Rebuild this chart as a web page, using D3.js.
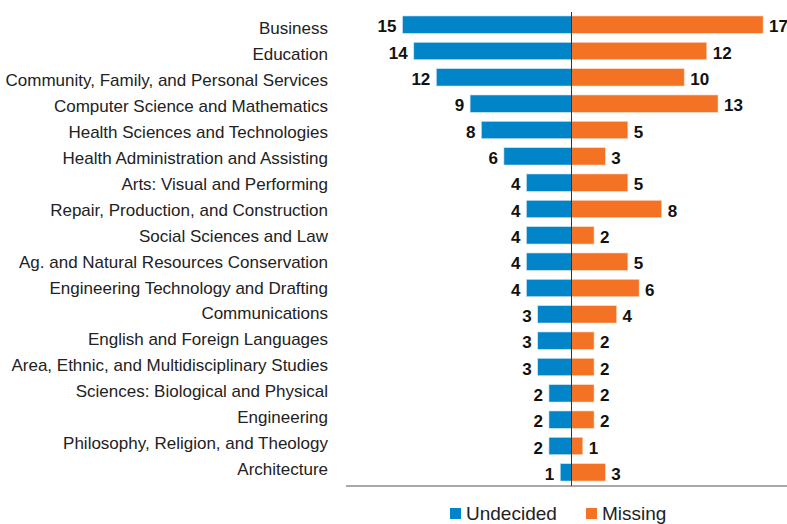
<!DOCTYPE html>
<html>
<head>
<meta charset="utf-8">
<script src="https://cdn.jsdelivr.net/npm/d3@7"></script>
<style>
  body { margin: 0; background: #fff; }
  text { font-family: "Liberation Sans", Arial, sans-serif; }
</style>
</head>
<body>
<div id="chart"></div>
<script>
// Data
const categories = [
  "Business", "Education", "Community, Family, and Personal Services",
  "Computer Science and Mathematics", "Health Sciences and Technologies",
  "Health Administration and Assisting", "Arts: Visual and Performing",
  "Repair, Production, and Construction", "Social Sciences and Law",
  "Ag. and Natural Resources Conservation", "Engineering Technology and Drafting",
  "Communications", "English and Foreign Languages",
  "Area, Ethnic, and Multidisciplinary Studies", "Sciences: Biological and Physical",
  "Engineering", "Philosophy, Religion, and Theology", "Architecture"
];
const undecided = [15, 14, 12, 9, 8, 6, 4, 4, 4, 4, 4, 3, 3, 3, 2, 2, 2, 1];
const missing = [17, 12, 10, 13, 5, 3, 5, 8, 2, 5, 6, 4, 2, 2, 2, 2, 1, 3];
const seriesNames = ["Undecided", "Missing"];

const width = 787, height = 524;
const blue = "#0284c8", orange = "#f37224";
const centerX = 571.5;

const svg = d3.select("#chart").append("svg")
  .attr("width", width)
  .attr("height", height);

// Scales
const xLeft = d3.scaleLinear().domain([0, 15]).range([centerX, centerX - 169]);
const xRight = d3.scaleLinear().domain([0, 17]).range([centerX, centerX + 191.6]);

const y = d3.scaleBand()
  .domain(categories)
  .range([11.5, 485.5])
  .paddingInner(0.34)
  .paddingOuter(0.17);

// category labels sit on a slightly tighter grid than the bars
const yLabel = d3.scalePoint()
  .domain(categories)
  .range([27.5, 469.3]);

const rows = categories.map((c, i) => ({ cat: c, u: undecided[i], m: missing[i] }));

// Category labels
svg.append("g").selectAll("text")
  .data(rows)
  .enter().append("text")
  .attr("x", 328)
  .attr("y", d => yLabel(d.cat))
  .attr("dy", "0.36em")
  .attr("text-anchor", "end")
  .attr("font-size", "17px")
  .attr("fill", "#222")
  .text(d => d.cat);

// Undecided bars
svg.append("g").selectAll("rect")
  .data(rows)
  .enter().append("rect")
  .attr("x", d => xLeft(d.u))
  .attr("y", d => y(d.cat))
  .attr("width", d => centerX - xLeft(d.u))
  .attr("height", y.bandwidth())
  .attr("fill", blue)
  .attr("stroke", "#cfe6f4")
  .attr("stroke-width", 0.6);

// Missing bars
svg.append("g").selectAll("rect")
  .data(rows)
  .enter().append("rect")
  .attr("x", centerX)
  .attr("y", d => y(d.cat))
  .attr("width", d => xRight(d.m) - centerX)
  .attr("height", y.bandwidth())
  .attr("fill", orange)
  .attr("stroke", "#fbd9c4")
  .attr("stroke-width", 0.6);

// Value labels
svg.append("g").selectAll("text")
  .data(rows)
  .enter().append("text")
  .attr("x", d => xLeft(d.u) - 6)
  .attr("y", d => y(d.cat) + y.bandwidth() / 2)
  .attr("dy", "0.46em")
  .attr("text-anchor", "end")
  .attr("font-size", "17px")
  .attr("font-weight", "bold")
  .attr("fill", "#111")
  .text(d => d.u);

svg.append("g").selectAll("text")
  .data(rows)
  .enter().append("text")
  .attr("x", d => xRight(d.m) + 6)
  .attr("y", d => y(d.cat) + y.bandwidth() / 2)
  .attr("dy", "0.46em")
  .attr("text-anchor", "start")
  .attr("font-size", "17px")
  .attr("font-weight", "bold")
  .attr("fill", "#111")
  .text(d => d.m);

// Center line and baseline
svg.append("line")
  .attr("x1", centerX).attr("x2", centerX)
  .attr("y1", 12).attr("y2", 486)
  .attr("stroke", "#333").attr("stroke-width", 1);

svg.append("line")
  .attr("x1", 346).attr("x2", width)
  .attr("y1", 486).attr("y2", 486)
  .attr("stroke", "#555").attr("stroke-width", 1.2);

// Legend
const legendX = [450, 586];
const legend = svg.append("g");
seriesNames.forEach((name, i) => {
  const g = legend.append("g").attr("transform", `translate(${legendX[i]}, 508)`);
  g.append("rect")
    .attr("width", 11).attr("height", 11)
    .attr("fill", i === 0 ? blue : orange);
  g.append("text")
    .attr("x", 16).attr("y", 12)
    .attr("font-size", "19px")
    .attr("fill", "#222")
    .text(name);
});
</script>
</body>
</html>
